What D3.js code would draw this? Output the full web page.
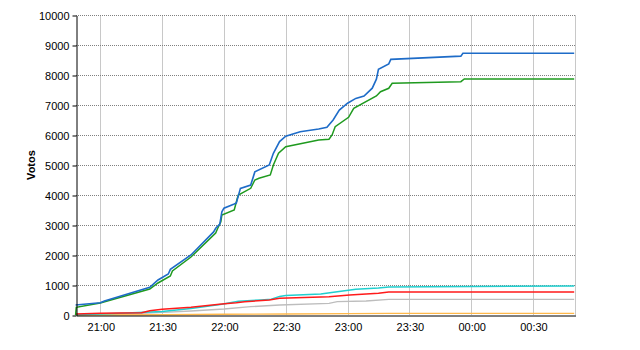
<!DOCTYPE html>
<html>
<head>
<meta charset="utf-8">
<script src="https://cdn.jsdelivr.net/npm/d3@7"></script>
<style>
  body { margin: 0; background: #fff; }
  svg text { font-family: "Liberation Sans", Arial, sans-serif; }
</style>
</head>
<body>
<script>
// time range shown on the x axis
const xDomain = ["20:48:12", "00:50:24"];
const yTicks = [0, 1000, 2000, 3000, 4000, 5000, 6000, 7000, 8000, 9000, 10000];

// series: [time, votes]
const blueSeries = [
  ["20:48", 333], ["21:00", 410], ["21:02", 470], ["21:24", 923], ["21:28", 1167],
  ["21:33", 1367], ["21:34", 1523], ["21:44", 2000], ["21:55", 2770], ["21:56", 2890],
  ["21:58", 3030], ["21:59", 3440], ["22:00", 3560], ["22:05", 3700], ["22:06", 3730],
  ["22:08", 4220], ["22:13", 4330], ["22:15", 4770], ["22:22", 5000], ["22:24", 5390],
  ["22:27", 5780], ["22:30", 5960], ["22:37", 6110], ["22:46", 6200], ["22:50", 6260],
  ["22:53", 6500], ["22:56", 6830], ["23:00", 7060], ["23:04", 7220], ["23:08", 7300],
  ["23:12", 7560], ["23:14", 7860], ["23:15", 8190], ["23:20", 8370], ["23:21", 8520],
  ["23:55", 8630], ["23:56", 8725], ["00:50", 8725]
];
const greenSeries = [
  ["20:48", 0], ["20:48:20", 257], ["21:00", 400], ["21:24", 867], ["21:28", 1067],
  ["21:34", 1300], ["21:35", 1467], ["21:44", 1933], ["21:56", 2733], ["21:57", 2890],
  ["21:58:30", 3110], ["21:59", 3333], ["22:05", 3500], ["22:06:30", 3890], ["22:07", 4000],
  ["22:13", 4223], ["22:15", 4500], ["22:17", 4557], ["22:22:30", 4667], ["22:24", 5000],
  ["22:26:30", 5390], ["22:30", 5610], ["22:46", 5833], ["22:51", 5857], ["22:52:30", 6000],
  ["22:54", 6277], ["23:00:30", 6590], ["23:03", 6890], ["23:14", 7300], ["23:16", 7443],
  ["23:20", 7557], ["23:21:40", 7723], ["23:55", 7777], ["23:56:40", 7867], ["00:50", 7867]
];
const cyanSeries = [
  ["20:48", 10], ["21:10", 60], ["21:30", 120], ["21:44", 220], ["21:59", 360],
  ["22:07", 460], ["22:18", 500], ["22:23", 523], ["22:27", 620], ["22:30", 650],
  ["22:47", 700], ["22:55", 777], ["23:04", 857], ["23:15", 900], ["23:20", 930],
  ["00:00", 950], ["00:50", 965]
];
const redSeries = [
  ["20:48", 30], ["21:00", 55], ["21:20", 77], ["21:24", 140], ["21:30", 190],
  ["21:44", 257], ["21:59", 367], ["22:06", 410], ["22:10", 443], ["22:22", 500],
  ["22:27", 557], ["22:51", 610], ["23:01", 667], ["23:15", 723], ["23:20", 765],
  ["00:50", 770]
];
const graySeries = [
  ["20:48", 5], ["21:20", 57], ["21:44", 133], ["22:00", 200], ["22:13", 277],
  ["22:27", 333], ["22:51", 390], ["22:55", 443], ["23:09", 467], ["23:20", 520],
  ["00:50", 523]
];
const orangeSeries = [
  ["20:48", 0], ["21:30", 10], ["22:00", 25], ["22:30", 35], ["23:00", 45],
  ["23:20", 55], ["00:50", 55]
];

const w = 640;
const h = 350;
const margin = {top: 15, right: 65, bottom: 35, left: 76};

// parse "HH:MM" or "HH:MM:SS"; after midnight goes to the next day
function parseTime(s) {
  const p = s.split(":").map(Number);
  let day = 1;
  if (p[0] < 12) day = 2;
  return new Date(2000, 0, day, p[0], p[1], p[2] || 0);
}

const xScale = d3.scaleTime()
                 .domain(xDomain.map(parseTime))
                 .range([margin.left, w - margin.right]);
const yScale = d3.scaleLinear()
                 .domain([0, 10000])
                 .range([h - margin.bottom, margin.top]);

const svg = d3.select("body")
              .append("svg")
              .attr("width", w)
              .attr("height", h);

const xTicks = d3.timeMinute.every(30).range(xScale.domain()[0], xScale.domain()[1]);

// vertical grid lines
svg.append("g")
   .selectAll("line")
   .data(xTicks)
   .enter()
   .append("line")
   .attr("x1", d => Math.round(xScale(d)) + 0.5)
   .attr("x2", d => Math.round(xScale(d)) + 0.5)
   .attr("y1", yScale(10000))
   .attr("y2", yScale(0))
   .attr("stroke", "#c8c8c8")
   .attr("stroke-width", 1);

// right border
svg.append("line")
   .attr("x1", Math.round(xScale.range()[1]) + 0.5)
   .attr("x2", Math.round(xScale.range()[1]) + 0.5)
   .attr("y1", yScale(10000))
   .attr("y2", yScale(0))
   .attr("stroke", "#c8c8c8");

// horizontal grid lines (dotted)
svg.append("g")
   .selectAll("line")
   .data(yTicks.filter(d => d > 0))
   .enter()
   .append("line")
   .attr("x1", margin.left)
   .attr("x2", w - margin.right)
   .attr("y1", d => Math.round(yScale(d)) + 0.5)
   .attr("y2", d => Math.round(yScale(d)) + 0.5)
   .attr("stroke", "#808080")
   .attr("stroke-dasharray", "1,1");

// lines
const line = d3.line()
               .x(d => xScale(parseTime(d[0])))
               .y(d => yScale(d[1]));

const series = [
  [graySeries, "#bdbdbd", 1.3],
  [orangeSeries, "#ffb84a", 1.4],
  [cyanSeries, "#20cfcf", 1.5],
  [redSeries, "#ff1a1a", 1.5],
  [greenSeries, "#1f9a1f", 1.5],
  [blueSeries, "#1e6cc8", 1.6]
];

series.forEach(s => {
  svg.append("path")
     .datum(s[0])
     .attr("d", line)
     .attr("fill", "none")
     .attr("stroke", s[1])
     .attr("stroke-width", s[2]);
});

// axes
const yAxis = d3.axisLeft(yScale).tickValues(yTicks).tickSize(4).tickSizeOuter(0)
                .tickFormat(d3.format("d"));
const xAxis = d3.axisBottom(xScale).tickValues(xTicks).tickSize(0).tickPadding(8)
                .tickFormat(d3.timeFormat("%H:%M"));

const gy = svg.append("g")
   .attr("transform", `translate(${margin.left + 0.5}, 0.5)`)
   .call(yAxis);
gy.selectAll("text").style("font-size", "11px").attr("fill", "#000").attr("dy", "0.35em");
gy.select(".domain").attr("stroke", "#000");
gy.selectAll(".tick line").attr("stroke", "#000");

const gx = svg.append("g")
   .attr("transform", `translate(0.5, ${h - margin.bottom + 0.5})`)
   .call(xAxis);
gx.selectAll("text").style("font-size", "11px").attr("fill", "#000");
gx.select(".domain").attr("stroke", "#000");

// y title
svg.append("text")
   .attr("transform", `translate(35, ${(margin.top + h - margin.bottom) / 2}) rotate(-90)`)
   .attr("text-anchor", "middle")
   .style("font-size", "11px")
   .style("font-weight", "bold")
   .text("Votos");
</script>
</body>
</html>
